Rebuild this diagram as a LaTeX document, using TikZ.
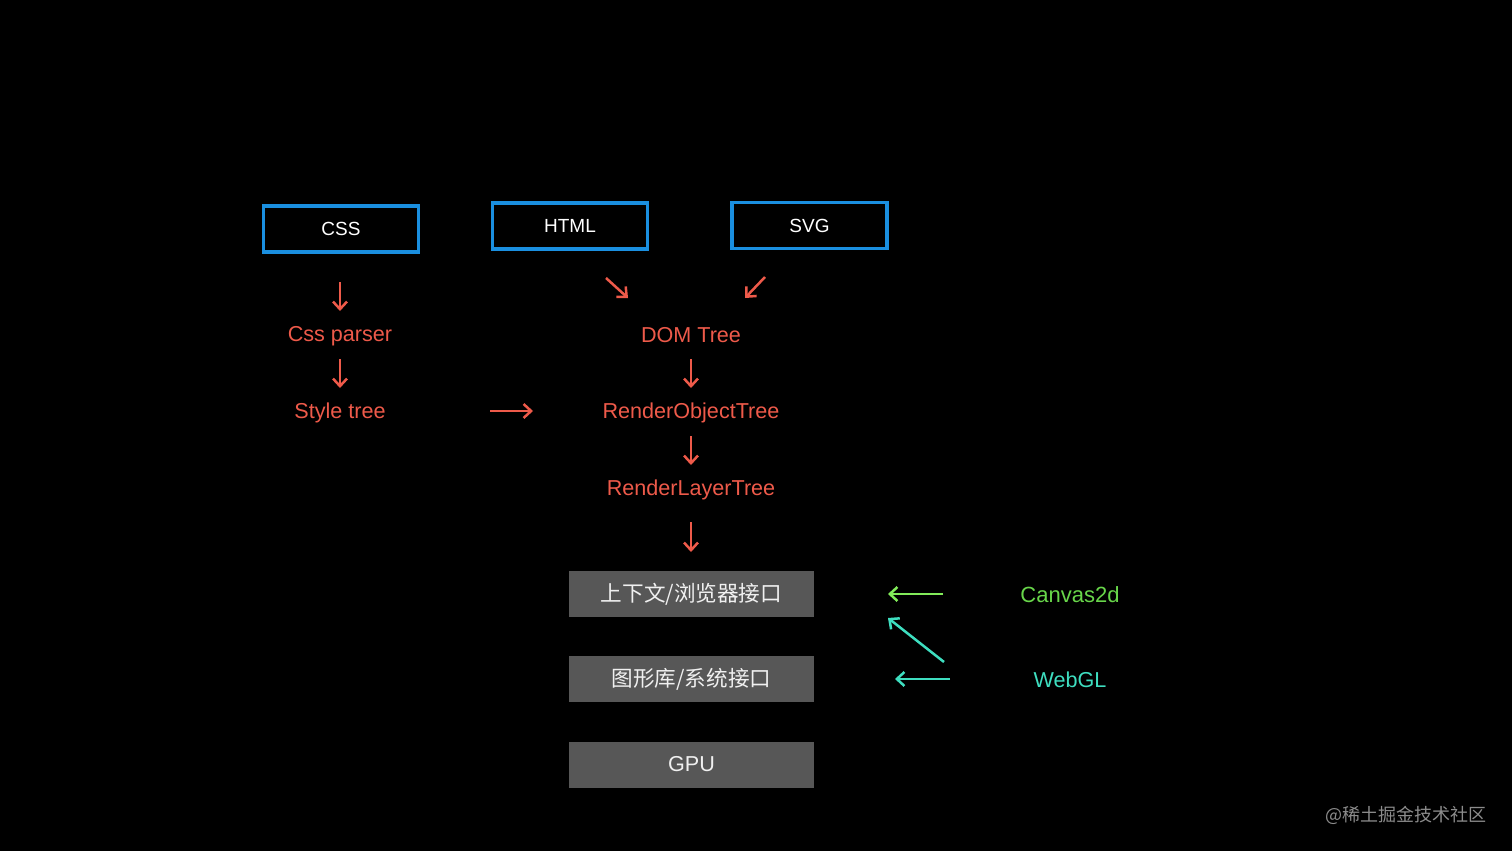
\documentclass[tikz,border=0pt]{standalone}
\usepackage{fontspec}
\setmainfont{Liberation Sans}
\newfontfamily\cjk{Noto Sans CJK SC}
\usetikzlibrary{arrows.meta,calc}
\definecolor{bgc}{RGB}{0,0,0}
\definecolor{blueb}{RGB}{26,143,224}
\definecolor{redc}{RGB}{238,90,74}
\definecolor{greenc}{RGB}{104,214,74}
\definecolor{greena}{RGB}{130,235,90}
\definecolor{tealc}{RGB}{62,222,192}
\definecolor{grayf}{RGB}{87,87,87}
\definecolor{wm}{RGB}{140,140,140}
\tikzset{
  srcbox/.style={draw=blueb, line width=1.9pt, fill=black, minimum width=77.5pt, minimum height=23pt, inner sep=0pt, text=white, font=\fontsize{9.5pt}{11pt}\selectfont},
  graybox/.style={fill=grayf, minimum width=122.5pt, minimum height=23pt, inner sep=0pt, text=white!94!black, font=\fontsize{10.8pt}{12pt}\selectfont},
  redtxt/.style={text=redc, inner sep=0pt, font=\fontsize{10.8pt}{12pt}\selectfont},
  arr/.style={line width=1.25pt, -{Straight Barb[length=3.8pt,width=7pt]}},
}
\begin{document}
\begin{tikzpicture}[x=0.5pt,y=-0.5pt]
\fill[bgc] (0,0) rectangle (1512,851);
\useasboundingbox (0,0) rectangle (1512,851);
% source boxes
\node[srcbox] (css) at (341,229) {\raisebox{-1pt}{CSS}};
\node[srcbox] (html) at (570,226) {\raisebox{-1pt}{HTML}};
\node[srcbox] (svg) at (809.5,225.5) {\raisebox{-1pt}{SVG}};
% red texts
\node[redtxt] (cssp) at (340,336.5) {Css parser};
\node[redtxt] (style) at (340,413) {Style tree};
\node[redtxt] (dom) at (691,335) {DOM Tree};
\node[redtxt] (rot) at (691,413) {RenderObjectTree};
\node[redtxt] (rlt) at (691,490) {RenderLayerTree};
% gray boxes
\node[graybox] (ctx) at (691.5,594) {\cjk 上下文/浏览器接口};
\node[graybox] (gfx) at (691.5,679) {\cjk 图形库/系统接口};
\node[graybox] (gpu) at (691.5,764.5) {\raisebox{-1pt}{GPU}};
% side labels
\node[text=greenc, inner sep=0pt, font=\fontsize{11pt}{12pt}\selectfont] (canvas) at (1070,595) {Canvas2d};
\node[text=tealc, inner sep=0pt, font=\fontsize{10.8pt}{12pt}\selectfont] (webgl) at (1070,680) {WebGL};
% watermark
\node[text=wm, inner sep=0pt, font=\fontsize{9pt}{10pt}\selectfont] (wmk) at (1406,815) {\cjk @稀土掘金技术社区};
% red arrows
\draw[arr, redc] ($(css)+(-1,53)$) -- ($(cssp)+(0,-25.5)$);
\draw[arr, redc] ($(cssp)+(0,22.5)$) -- ($(style)+(0,-25)$);
\draw[arr, redc] ($(html)+(36,52)$) -- ($(dom)+(-63,-37)$);
\draw[arr, redc] ($(svg)+(-44.5,51.5)$) -- ($(dom)+(54,-37)$);
\draw[arr, redc] ($(dom)+(0,24)$) -- ($(rot)+(0,-25)$);
\draw[arr, redc] ($(style)+(150,-2)$) -- ($(rot)+(-158,-2)$);
\draw[arr, redc] ($(rot)+(0,23)$) -- ($(rlt)+(0,-25)$);
\draw[arr, redc] ($(rlt)+(0,32)$) -- ($(ctx)+(-0.5,-42)$);
% green / teal arrows
\draw[arr, greena] ($(canvas)+(-127,-1)$) -- ($(ctx)+(196.5,0)$);
\draw[arr, tealc] ($(webgl)+(-126,-18)$) -- ($(ctx)+(196.5,24)$);
\draw[arr, tealc] ($(webgl)+(-120,-1)$) -- ($(gfx)+(203.5,0)$);
\end{tikzpicture}
\end{document}
